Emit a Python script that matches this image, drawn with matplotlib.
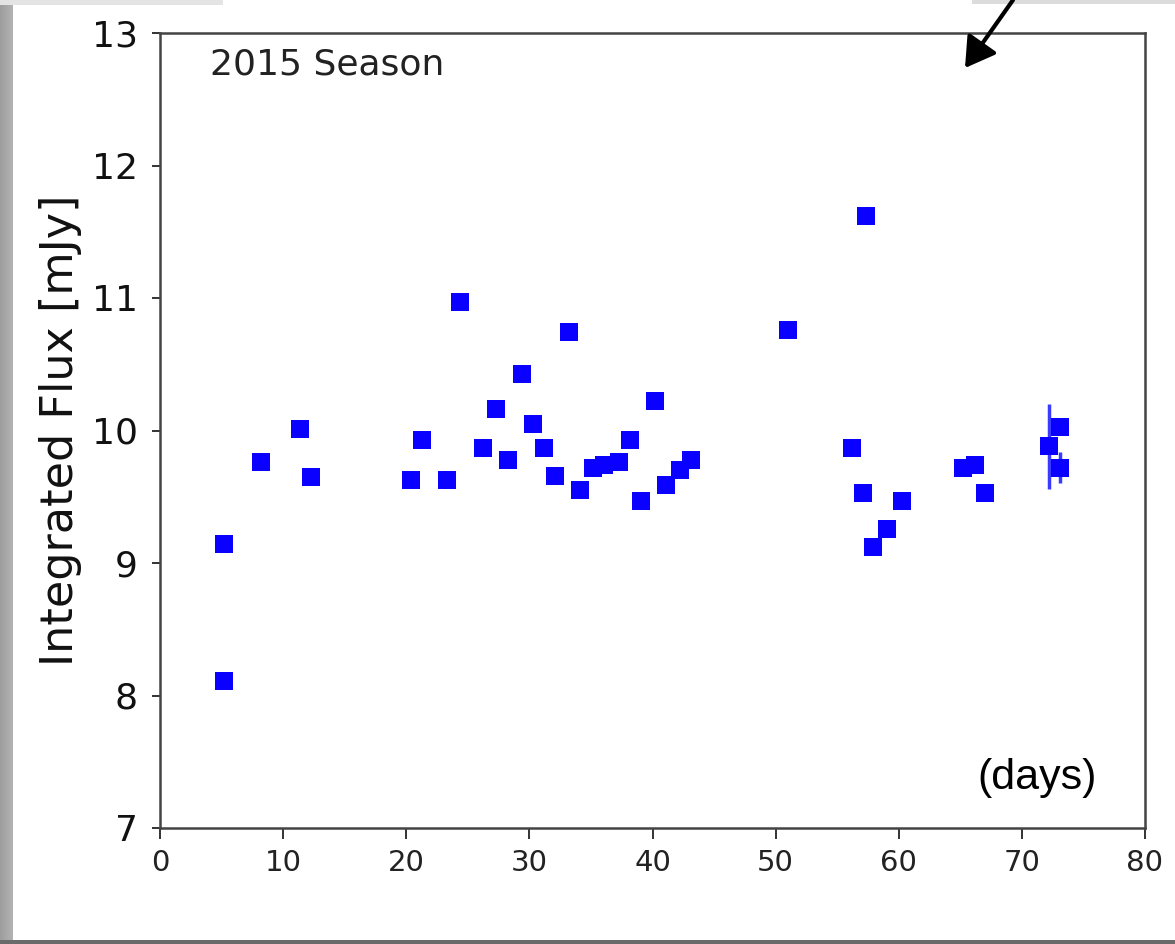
import matplotlib
matplotlib.use("Agg")
import matplotlib.pyplot as plt
from matplotlib.patches import Rectangle, FancyArrowPatch
import numpy as np

# ---- data ----
days = [5.2, 5.2, 8.2, 11.35, 12.24, 20.37, 21.26, 23.29, 24.39, 26.21,
        27.32, 28.25, 29.38, 30.28, 31.17, 32.09, 33.2, 34.12, 35.2, 36.1,
        37.3, 38.16, 39.07, 40.19, 41.11, 42.22, 43.11, 51.02, 56.22, 57.33,
        57.11, 57.9, 59.06, 60.25, 65.23, 66.18, 66.99, 72.19, 73.09, 73.09]
flux = [9.14, 8.11, 9.76, 10.01, 9.65, 9.63, 9.93, 9.63, 10.97, 9.87,
        10.16, 9.78, 10.43, 10.05, 9.87, 9.66, 10.74, 9.55, 9.72, 9.74,
        9.76, 9.93, 9.47, 10.22, 9.59, 9.70, 9.78, 10.76, 9.87, 11.62,
        9.53, 9.12, 9.26, 9.47, 9.72, 9.74, 9.53, 9.88, 10.03, 9.72]
flux_err = [0.05] * 37 + [0.32, 0.05, 0.12]

xticks = [0, 10, 20, 30, 40, 50, 60, 70, 80]
yticks = [7, 8, 9, 10, 11, 12, 13]
season_label = "2015 Season"
ylabel = "Integrated Flux [mJy]"
unit_label = "(days)"

W, H = 1175, 944
fig = plt.figure(figsize=(W / 100, H / 100), dpi=100)
fig.patch.set_facecolor("white")

# screenshot shadow / page edges
grad = np.linspace(0.62, 0.95, 50).reshape(1, -1)
fig.figimage(np.repeat(np.dstack([grad] * 3), H, axis=0), xo=0, yo=0, zorder=0)
fig.patches.append(Rectangle((13 / W, 0), 1, 1, transform=fig.transFigure,
                             facecolor="white", edgecolor="none", zorder=0.5))
fig.patches.append(Rectangle((0, 0), 1, 4 / H, transform=fig.transFigure,
                             facecolor="#6a6a6a", edgecolor="none", zorder=1))
fig.patches.append(Rectangle((0, 1 - 5 / H), 223 / W, 5 / H, transform=fig.transFigure,
                             facecolor="#e4e4e4", edgecolor="none", zorder=1))
fig.patches.append(Rectangle((972 / W, 1 - 4 / H), 203 / W, 4 / H, transform=fig.transFigure,
                             facecolor="#dcdcdc", edgecolor="none", zorder=1))

ax = fig.add_axes([160 / W, 1 - 828 / H, (1145 - 160) / W, (828 - 33) / H])
ax.set_facecolor("white")
ax.set_zorder(2)

ax.errorbar(days, flux, yerr=flux_err, fmt="s", color="#0a00ff",
            ecolor="#3a3aff", elinewidth=2.5, markersize=13.5,
            markeredgewidth=0, capsize=0)

ax.set_xlim(0, 80)
ax.set_ylim(7, 13)
ax.set_xticks(xticks)
ax.set_yticks(yticks)
ax.set_xticklabels([str(t) for t in xticks], fontsize=21,
                   family=["Liberation Sans Narrow", "DejaVu Sans"], color="#222222")
ax.set_yticklabels([str(t) for t in yticks], fontsize=26, color="#111111")
ax.tick_params(axis="y", length=6, width=1.4, pad=10, color="#333333")
ax.tick_params(axis="x", length=8, width=1.4, pad=7, color="#333333")
for s in ax.spines.values():
    s.set_linewidth(1.8)
    s.set_color("#444444")

ax.set_ylabel(ylabel, fontsize=32, color="#111111")
ax.yaxis.set_label_coords((82 - 160) / 985, 0.5)

ax.text(0.0508, 0.948, season_label, transform=ax.transAxes, fontsize=26,
        ha="left", va="baseline", color="#222222")
ax.text(0.890, 0.063, unit_label, transform=ax.transAxes, fontsize=31,
        family="Liberation Sans", ha="center", va="center", color="black")

arrow = FancyArrowPatch((1013 / W, 1.0), (965 / W, 1 - 68 / H),
                        transform=fig.transFigure,
                        arrowstyle="-|>,head_length=10,head_width=6",
                        mutation_scale=1.8, color="black", linewidth=3,
                        shrinkA=0, shrinkB=0, zorder=5)
fig.patches.append(arrow)

fig.savefig("out.png", dpi=100)
